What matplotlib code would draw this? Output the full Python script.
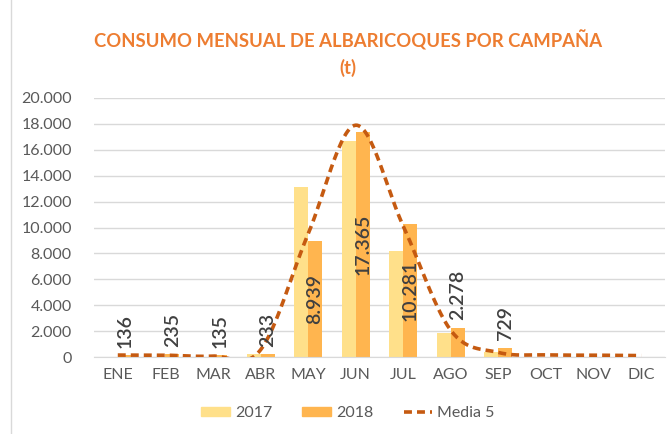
import numpy as np
import matplotlib.pyplot as plt
from matplotlib.patches import Patch
from matplotlib.lines import Line2D

meses = ['ENE', 'FEB', 'MAR', 'ABR', 'MAY', 'JUN', 'JUL', 'AGO', 'SEP', 'OCT', 'NOV', 'DIC']
v2017 = [0, 0, 0, 250, 13150, 16650, 8150, 1850, 400, 0, 0, 0]
v2018 = [136, 235, 135, 233, 8939, 17365, 10281, 2278, 729, 0, 0, 0]
media5 = [150, 140, 70, 550, 9500, 17900, 10100, 2050, 350, 160, 140, 110]

c2017 = '#FFE08A'
c2018 = '#FFB54F'
cmedia = '#C55A11'
gris = '#595959'


def catmull_rom(xs, ys, n=30):
    """Curva suavizada tipo Excel que pasa por los puntos."""
    xs = np.asarray(xs, float)
    ys = np.asarray(ys, float)
    px = np.concatenate([[xs[0]], xs, [xs[-1]]])
    py = np.concatenate([[ys[0]], ys, [ys[-1]]])
    outx, outy = [], []
    for i in range(1, len(px) - 2):
        t = np.linspace(0, 1, n)
        for p, out in ((px, outx), (py, outy)):
            p0, p1, p2, p3 = p[i - 1], p[i], p[i + 1], p[i + 2]
            m1 = (p2 - p0) / 2
            m2 = (p3 - p1) / 2
            h = ((2 * t**3 - 3 * t**2 + 1) * p1 + (t**3 - 2 * t**2 + t) * m1
                 + (-2 * t**3 + 3 * t**2) * p2 + (t**3 - t**2) * m2)
            out.extend(h)
    return np.array(outx), np.array(outy)


plt.rcParams['font.family'] = ['Lato', 'DejaVu Sans']

fig = plt.figure(figsize=(6.69, 4.34), dpi=100)
ax = fig.add_axes([0.1405, 0.1774, 0.8535, 0.5968])

x = np.arange(len(meses))
w = 0.294
ax.bar(x - w / 2, v2017, w, color=c2017, zorder=2)
ax.bar(x + w / 2, v2018, w, color=c2018, zorder=2)

sx, sy = catmull_rom(x, media5)
ax.plot(sx, sy, color=cmedia, lw=2.6, ls=(0, (2.2, 1.4)), zorder=3)

# etiquetas de 2018
for xi, v in zip(x, v2018):
    if v <= 0:
        continue
    txt = f'{v:,}'.replace(',', '.')
    largo = len(txt) * 850
    if largo < v:
        ax.text(xi + w / 2, v / 2, txt, rotation=90, ha='center', va='center',
                fontsize=14, fontweight='semibold', color='#404040', zorder=4)
    else:
        ax.text(xi + w / 2, v + 550, txt, rotation=90, ha='center', va='bottom',
                fontsize=14, fontweight='semibold', color='#404040', zorder=4)

ax.set_xlim(-0.5, len(meses) - 0.5)
ax.set_ylim(0, 20000)
ax.set_yticks(np.arange(0, 20001, 2000))
ax.set_yticklabels([f'{int(t):,}'.replace(',', '.') for t in np.arange(0, 20001, 2000)])
ax.set_xticks(x)
ax.set_xticklabels(meses)
ax.tick_params(length=0, labelsize=11.5, colors=gris, pad=8)
ax.tick_params(axis='y', pad=16)
ax.grid(axis='y', color='#D9D9D9', lw=1, zorder=0)
ax.set_axisbelow(True)
for s in ['top', 'right', 'left']:
    ax.spines[s].set_visible(False)
ax.spines['bottom'].set_color('#D9D9D9')

fig.text(0.52, 0.908, 'CONSUMO MENSUAL DE ALBARICOQUES POR CAMPAÑA', ha='center',
         va='center', fontsize=13.3, fontweight='bold', color='#ED7D31')
fig.text(0.52, 0.843, '(t)', ha='center', va='center', fontsize=13.3,
         fontweight='bold', color='#ED7D31')

handles = [Patch(color=c2017, label='2017'), Patch(color=c2018, label='2018'),
           Line2D([0], [0], color=cmedia, lw=2.6, ls=(0, (2.2, 1.4)), label='Media 5')]
leg = fig.legend(handles=handles, loc='center', bbox_to_anchor=(0.52, 0.048), ncol=3,
                 frameon=False, fontsize=11.5, handlelength=1.8, handleheight=0.55,
                 columnspacing=1.9, handletextpad=0.3)
for t in leg.get_texts():
    t.set_color(gris)

fig.add_artist(Line2D([0.016, 0.016], [0, 1], color='#D9D9D9', lw=1, transform=fig.transFigure))

fig.savefig('out.png', dpi=100)
